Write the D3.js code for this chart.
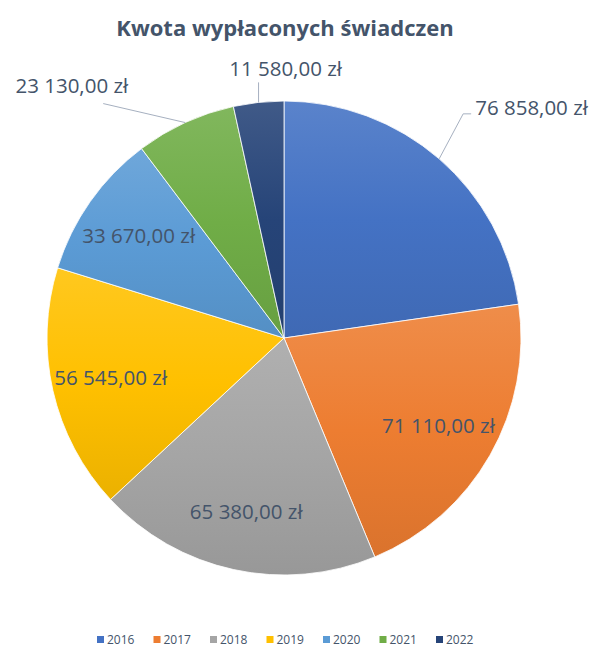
<!DOCTYPE html>
<html>
<head>
<meta charset="utf-8">
<script src="https://cdn.jsdelivr.net/npm/d3@7"></script>
<style>
  body { margin: 0; background: #fff; }
  text { font-family: "Open Sans", "Noto Sans", sans-serif; }
</style>
</head>
<body>
<div id="chart"></div>
<script>
var years = ["2016", "2017", "2018", "2019", "2020", "2021", "2022"];
var amounts = [76858, 71110, 65380, 56545, 33670, 23130, 11580];
var colors = ["#4472C4", "#ED7D31", "#A5A5A5", "#FFC000", "#5B9BD5", "#70AD47", "#264478"];
var outsideLabels = ["2016", "2021", "2022"];

var width = 594;
var height = 648;
var radius = 237;
var cx = 284, cy = 338;

var pieData = years.map(function(y, i) { return { year: y, value: amounts[i] }; });

var svg = d3.select("#chart")
    .append("svg")
    .attr("width", width)
    .attr("height", height);

var color = d3.scaleOrdinal().domain(years).range(colors);

// gradients, lighter at top like the excel style
var defs = svg.append("defs");
years.forEach(function(y) {
    var c = color(y);
    var g = defs.append("linearGradient")
        .attr("id", "grad" + y)
        .attr("x1", 0).attr("y1", 0).attr("x2", 0).attr("y2", 1);
    g.append("stop").attr("offset", "0%").attr("stop-color", d3.interpolateRgb(c, "#fff")(0.12));
    g.append("stop").attr("offset", "50%").attr("stop-color", c);
    g.append("stop").attr("offset", "100%").attr("stop-color", d3.interpolateRgb(c, "#000")(0.08));
});

svg.append("text")
    .attr("x", 285)
    .attr("y", 36)
    .attr("text-anchor", "middle")
    .style("font-size", "22px")
    .style("font-weight", "bold")
    .style("fill", "#44546A")
    .text("Kwota wypłaconych świadczen");

var pie = d3.pie().sort(null).value(function(d) { return d.value; });
var data_ready = pie(pieData);

var arc = d3.arc().innerRadius(0).outerRadius(radius);
var labelArc = d3.arc().innerRadius(radius * 0.75).outerRadius(radius * 0.75);
var edgeArc = d3.arc().innerRadius(radius).outerRadius(radius);

var g = svg.append("g").attr("transform", "translate(" + cx + "," + cy + ")");

g.selectAll("path.slice")
    .data(data_ready)
    .enter()
    .append("path")
    .attr("class", "slice")
    .attr("d", arc)
    .attr("fill", function(d) { return "url(#grad" + d.data.year + ")"; })
    .attr("stroke", "#fff")
    .attr("stroke-width", 0.8);

var fmt = function(v) {
    return d3.format(",.2f")(v).replace(/,/g, " ").replace(".", ",") + " zł";
};

var inside = data_ready.filter(function(d) { return outsideLabels.indexOf(d.data.year) < 0; });
var outside = data_ready.filter(function(d) { return outsideLabels.indexOf(d.data.year) >= 0; });

g.selectAll("text.inlabel")
    .data(inside)
    .enter()
    .append("text")
    .attr("class", "inlabel")
    .attr("transform", function(d) { return "translate(" + labelArc.centroid(d) + ")"; })
    .attr("text-anchor", "middle")
    .attr("dy", "0.35em")
    .style("font-size", "20.5px")
    .style("fill", "#44546A")
    .text(function(d) { return fmt(d.data.value); });

var mid = function(d) { return d.startAngle + (d.endAngle - d.startAngle) / 2; };

// leader line layout depends on where the slice sits
function leader(d) {
    var a = edgeArc.centroid(d);
    var m = mid(d);
    if (m < Math.PI / 4) {
        var b = [a[0] + 24, a[1] - 45];
        return { pts: [a, b, [b[0] + 8, b[1]]], tx: b[0] + 12, ty: b[1] - 6, anchor: "start" };
    }
    if (m > Math.PI * 1.9) {
        var b2 = [a[0], a[1] - 20];
        return { pts: [a, b2], tx: b2[0] + 27, ty: b2[1] - 14, anchor: "middle" };
    }
    var b3 = [a[0] - 82, a[1] - 19];
    return { pts: [a, b3], tx: b3[0] + 25, ty: b3[1] - 18, anchor: "end" };
}

g.selectAll("polyline")
    .data(outside)
    .enter()
    .append("polyline")
    .attr("fill", "none")
    .attr("stroke", "#A6B0C0")
    .attr("stroke-width", 1)
    .attr("points", function(d) { return leader(d).pts; });

g.selectAll("text.outlabel")
    .data(outside)
    .enter()
    .append("text")
    .attr("class", "outlabel")
    .attr("transform", function(d) { var l = leader(d); return "translate(" + l.tx + "," + l.ty + ")"; })
    .attr("text-anchor", function(d) { return leader(d).anchor; })
    .attr("dy", "0.35em")
    .style("font-size", "20.5px")
    .style("fill", "#44546A")
    .text(function(d) { return fmt(d.data.value); });

// legend
var legend = svg.append("g").attr("transform", "translate(97,640)");
var item = legend.selectAll("g")
    .data(years)
    .enter()
    .append("g")
    .attr("transform", function(d, i) { return "translate(" + (i * 56.5) + ",0)"; });
item.append("rect")
    .attr("x", 0).attr("y", -4)
    .attr("width", 7).attr("height", 7)
    .attr("fill", function(d) { return color(d); });
item.append("text")
    .attr("x", 10).attr("y", 0)
    .attr("dy", "0.35em")
    .style("font-size", "12px")
    .style("fill", "#44546A")
    .text(function(d) { return d; });
</script>
</body>
</html>
